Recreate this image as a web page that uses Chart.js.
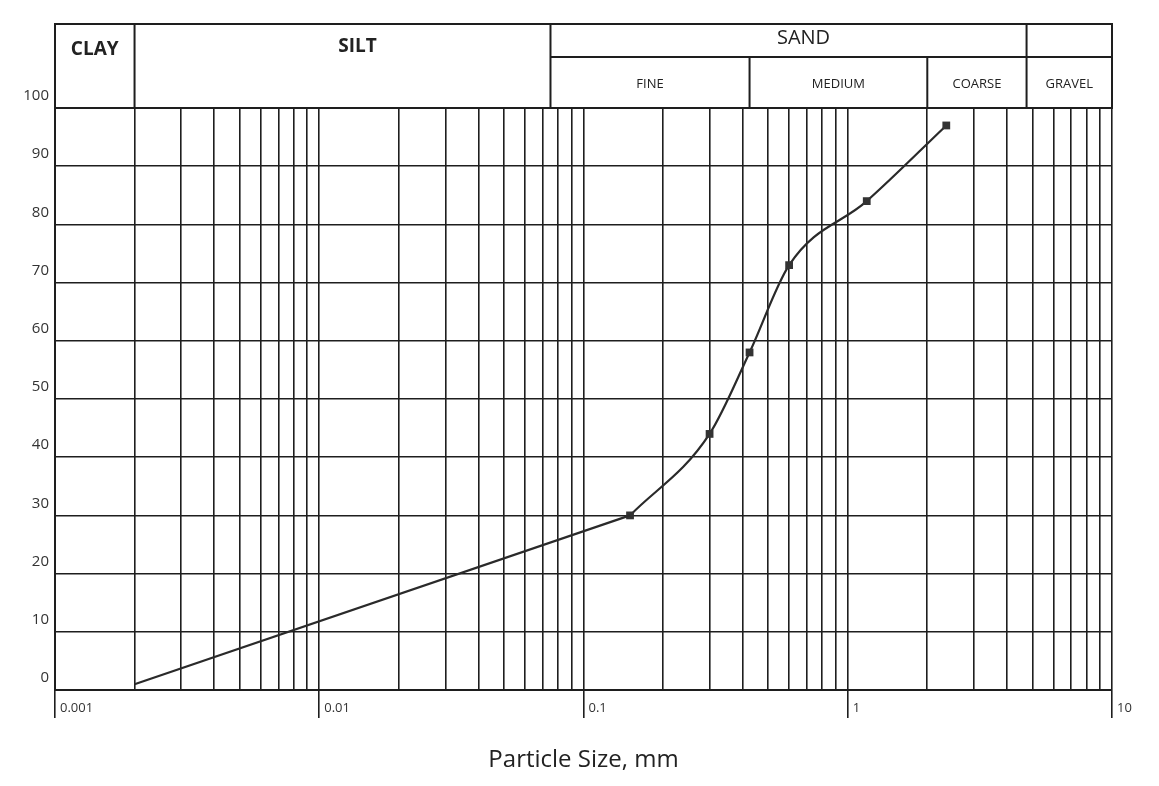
<!DOCTYPE html>
<html>
<head>
<meta charset="utf-8">
<script src="https://cdn.jsdelivr.net/npm/chart.js@4.4.1/dist/chart.umd.min.js"></script>
<style>
  body { margin: 0; background: #fff; }
  #chart { display: block; }
</style>
</head>
<body>
<canvas id="chart" width="1159" height="786"></canvas>
<script>
// grain size results (mm, % finer)
var particleSize = [0.002, 0.15, 0.3, 0.425, 0.6, 1.18, 2.36]
var percentFiner = [1, 30, 44, 58, 73, 84, 97]
// first two points are joined by a straight ruled line, the rest by a smooth curve
var straightUpTo = 1

// soil classes in the header
var zoneNames = ['CLAY', 'SILT', 'FINE', 'MEDIUM', 'COARSE', 'GRAVEL']
var zoneEdges = [0.001, 0.002, 0.075, 0.425, 2, 4.75, 10]
var sandLabel = 'SAND'

// log axis grid
var decades = [0.001, 0.01, 0.1, 1]
var decadeSteps = [1, 2, 3, 4, 5, 6, 7, 8, 9]
var decadeLabels = ['0.001', '0.01', '0.1', '1', '10']

var INK = '#1e1e1e'
var FONT = '"Open Sans", sans-serif'

var headerPlugin = {
  id: 'soilHeader',
  afterDraw: function(chart) {
    var ctx = chart.ctx
    var a = chart.chartArea
    var px = function(v) { return chart.scales.x.getPixelForValue(v) }
    var top = 24
    var mid = 57
    var bottom = a.top

    ctx.save()
    ctx.strokeStyle = INK
    ctx.lineWidth = 2
    ctx.beginPath()
    ctx.rect(a.left, top, a.right - a.left, bottom - top)
    var full = [zoneEdges[1], zoneEdges[2], zoneEdges[5]]
    full.forEach(function(v) {
      ctx.moveTo(px(v), top); ctx.lineTo(px(v), bottom)
    })
    ctx.moveTo(px(zoneEdges[2]), mid); ctx.lineTo(a.right, mid)
    ;[zoneEdges[3], zoneEdges[4]].forEach(function(v) {
      ctx.moveTo(px(v), mid); ctx.lineTo(px(v), bottom)
    })
    ctx.stroke()

    ctx.fillStyle = '#222'
    ctx.textAlign = 'center'
    ctx.textBaseline = 'middle'
    var cx = function(i) {
      var l = i === 0 ? a.left : px(zoneEdges[i])
      var r = i === zoneEdges.length - 2 ? a.right : px(zoneEdges[i + 1])
      return (l + r) / 2
    }
    ctx.font = 'bold 19px ' + FONT
    ctx.fillText(zoneNames[0], cx(0), 50)
    ctx.fillText(zoneNames[1], cx(1) + 15, 47)
    ctx.font = '20px ' + FONT
    ctx.fillText(sandLabel, (px(zoneEdges[2]) + px(zoneEdges[5])) / 2 + 15, 38)
    ctx.font = '13px ' + FONT
    for (var i = 2; i < zoneNames.length; i++) {
      ctx.fillText(zoneNames[i], cx(i), (mid + bottom) / 2 + 2)
    }
    ctx.restore()
  }
}

var points = particleSize.map(function(s, i) { return { x: s, y: percentFiner[i] } })

var lineStyle = {
  borderColor: '#2a2a2a',
  borderWidth: 2.2,
  backgroundColor: '#333',
  pointStyle: 'rect',
  pointBorderWidth: 0,
  fill: false
}

new Chart(document.getElementById('chart').getContext('2d'), {
  type: 'line',
  data: {
    datasets: [
      Object.assign({}, lineStyle, {
        label: 'hydrometer',
        data: points.slice(0, straightUpTo + 1),
        tension: 0,
        pointRadius: 0
      }),
      Object.assign({}, lineStyle, {
        label: 'sieve',
        data: points.slice(straightUpTo),
        cubicInterpolationMode: 'monotone',
        pointRadius: 5.5
      })
    ]
  },
  options: {
    responsive: false,
    animation: false,
    layout: { padding: { top: 108, right: 47, left: 0, bottom: 0 } },
    plugins: { legend: { display: false }, tooltip: { enabled: false } },
    scales: {
      x: {
        type: 'logarithmic',
        min: 0.001,
        max: 10,
        afterBuildTicks: function(scale) {
          var t = []
          decades.forEach(function(d) {
            decadeSteps.forEach(function(s) {
              t.push({ value: +(d * s).toPrecision(6), major: s === 1 })
            })
          })
          t.push({ value: 10, major: true })
          scale.ticks = t
        },
        afterFit: function(scale) { scale.height = 96 },
        grid: {
          color: INK,
          lineWidth: 1.6,
          drawTicks: true,
          tickLength: 28,
          tickWidth: 1.6,
          tickColor: function(c) { return c.tick && c.tick.major ? INK : 'rgba(0,0,0,0)' }
        },
        border: { color: INK, width: 2 },
        ticks: {
          autoSkip: false,
          maxRotation: 0,
          align: 'start',
          padding: -18,
          labelOffset: 5,
          color: '#333',
          font: { family: FONT, size: 13 },
          callback: function(value, index, ticks) {
            if (!ticks[index].major) return ''
            return decadeLabels[Math.round(Math.log10(value)) + 3]
          }
        },
        title: {
          display: true,
          text: 'Particle Size, mm',
          color: '#222',
          font: { family: FONT, size: 24 },
          padding: { top: 0, bottom: 11 }
        }
      },
      y: {
        min: 0,
        max: 100,
        afterFit: function(scale) { scale.width = 55 },
        grid: { color: INK, lineWidth: 1.6, drawTicks: false },
        border: { color: INK, width: 2 },
        ticks: {
          stepSize: 10,
          padding: 6,
          labelOffset: -12,
          color: '#333',
          font: { family: FONT, size: 15 }
        }
      }
    }
  },
  plugins: [headerPlugin]
})
</script>
</body>
</html>
